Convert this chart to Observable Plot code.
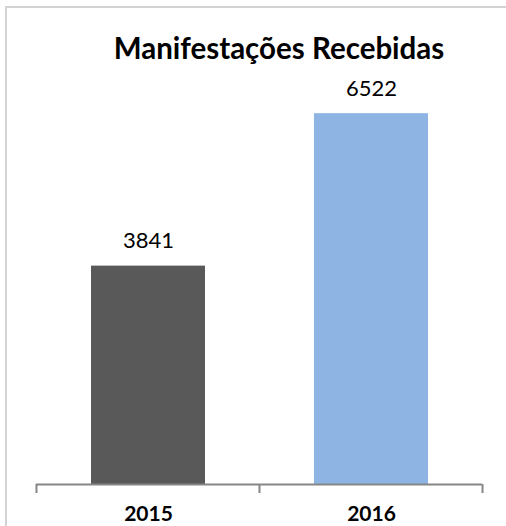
<!DOCTYPE html>
<html>
<head>
<meta charset="utf-8">
<script src="https://cdn.jsdelivr.net/npm/d3@7"></script>
<script src="https://cdn.jsdelivr.net/npm/@observablehq/plot@0.6"></script>
<style>
  html, body { margin: 0; padding: 0; background: #fff; }
  #wrap { position: relative; width: 506px; height: 526px; overflow: hidden; background: #fff; }
  #frame { position: absolute; left: 5px; top: 6px; width: 600px; height: 600px;
           border-top: 2px solid #d3d3d3; border-left: 2px solid #d3d3d3; box-sizing: border-box; }
  #title { position: relative; height: 70px; width: 506px; box-sizing: border-box;
           font-family: Lato, sans-serif; font-weight: 700; font-size: 29.5px; line-height: 34px;
           text-align: center; padding-left: 52px; padding-top: 31px; color: #000; white-space: nowrap; }
  #chart { position: relative; }
</style>
</head>
<body>
<div id="wrap">
  <div id="frame"></div>
  <div id="title">Manifestações Recebidas</div>
  <div id="chart"></div>
</div>
<script>
const years = ["2015", "2016"];
const counts = [3841, 6522];
const barColors = ["#595959", "#8db4e3"];

const data = years.map((y, i) => ({year: y, count: counts[i]}));

const padIn = 0.489;

function bandTicks(index, scales, values, dimensions) {
  const x = scales.x, y = scales.y;
  const step = x.step();
  const bw = x.bandwidth();
  const half = step * padIn / 2;
  const dom = x.domain();
  const edges = dom.map(d => x(d) - half);
  edges.push(x(dom[dom.length - 1]) + bw + half);
  const y0 = y(0);
  const g = d3.create("svg:g").attr("stroke", "#868686").attr("stroke-width", 2);
  g.selectAll("line").data(edges).join("line")
    .attr("x1", d => d).attr("x2", d => d)
    .attr("y1", y0).attr("y2", y0 + 9);
  return g.node();
}

const chart = Plot.plot({
  width: 506,
  height: 456,
  marginLeft: 36,
  marginRight: 24,
  marginTop: 16,
  marginBottom: 42,
  style: {background: "transparent", fontFamily: "Lato, sans-serif", overflow: "visible"},
  x: {domain: years, paddingInner: padIn, paddingOuter: padIn / 2, axis: null},
  y: {domain: [0, 7000], axis: null},
  color: {domain: years, range: barColors},
  marks: [
    Plot.barY(data, {x: "year", y: "count", fill: "year"}),
    Plot.ruleY([0], {stroke: "#868686", strokeWidth: 2}),
    bandTicks,
    Plot.text(data, {x: "year", y: "count", text: d => String(d.count), lineAnchor: "bottom",
      dy: -18, fontSize: 22, fill: "#000"}),
    Plot.text(data, {x: "year", frameAnchor: "bottom", text: "year", lineAnchor: "bottom",
      dy: 36, fontSize: 21, fontWeight: "bold", fill: "#000"})
  ]
});
document.getElementById("chart").appendChild(chart);
</script>
</body>
</html>
